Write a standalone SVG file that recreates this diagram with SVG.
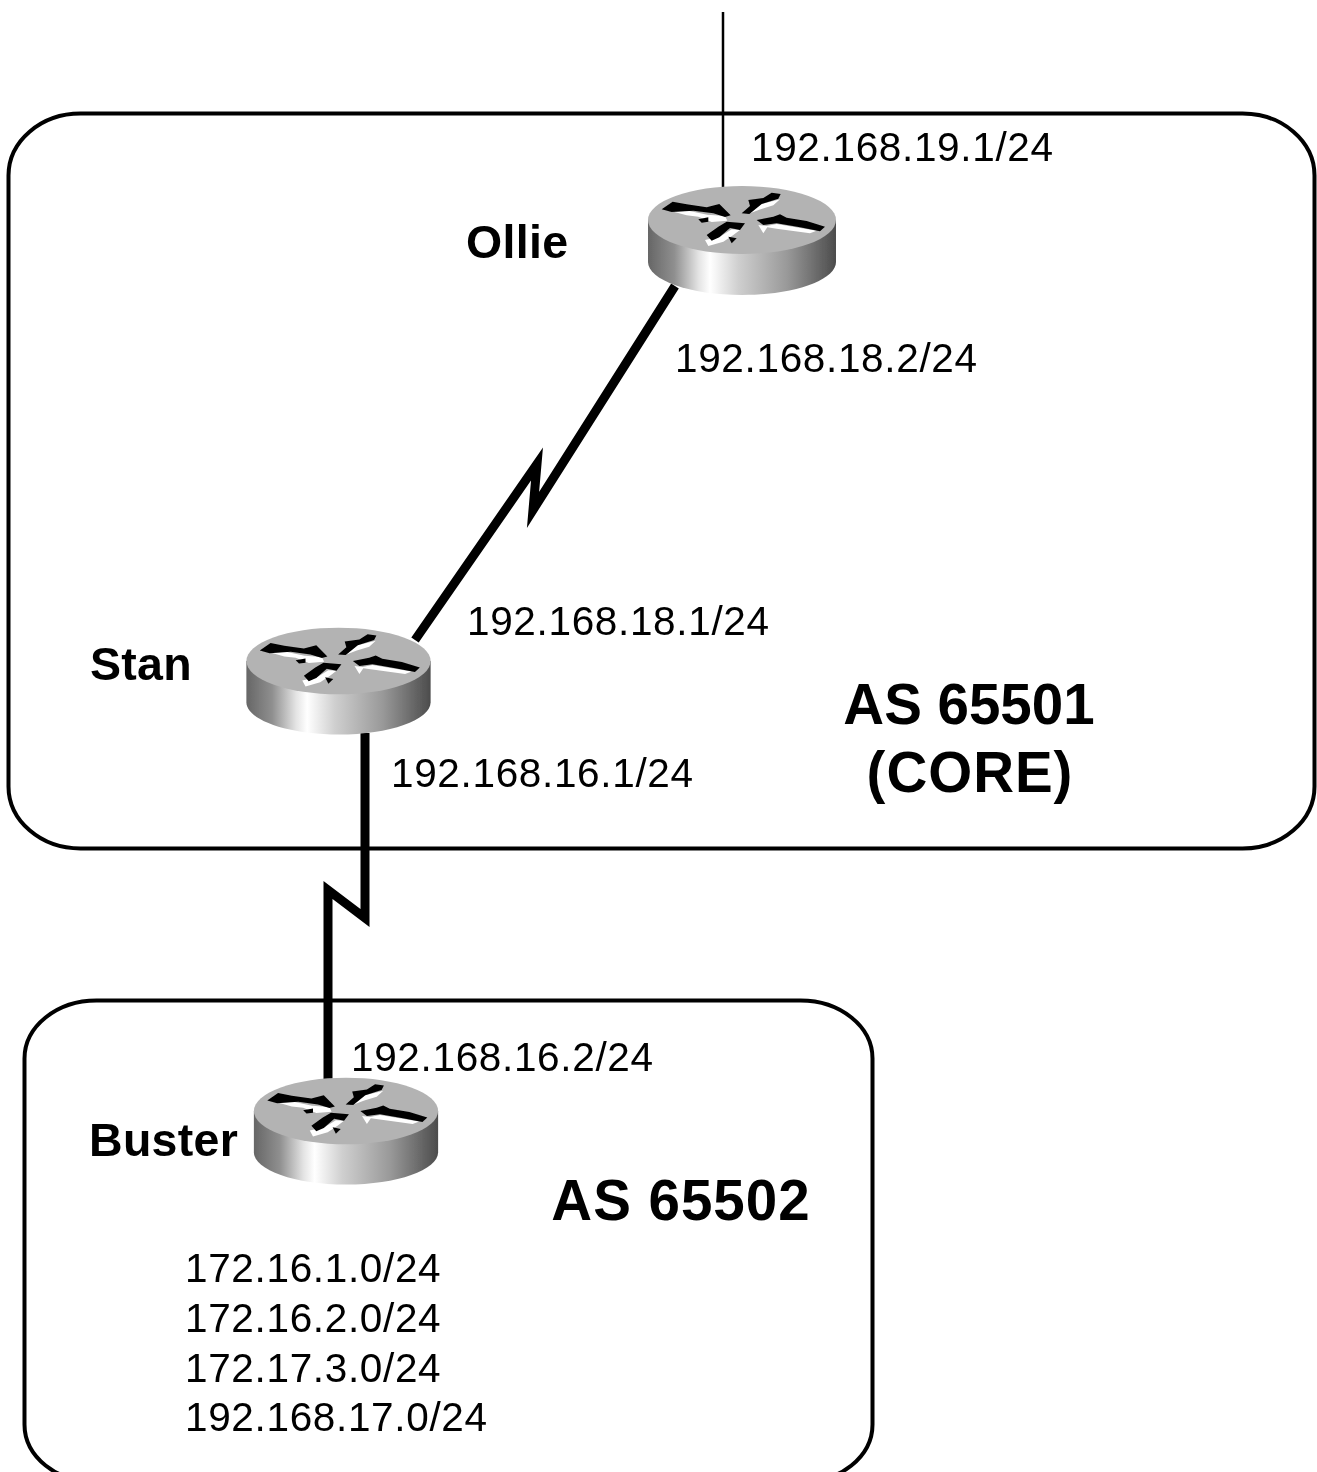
<svg xmlns="http://www.w3.org/2000/svg" width="1317" height="1472" viewBox="0 0 1317 1472">
<style>
.box{fill:none;stroke:#000;stroke-width:4}
.thin{fill:none;stroke:#000;stroke-width:2.500}
.wan{fill:none;stroke:#000;stroke-width:9;stroke-linejoin:miter;stroke-miterlimit:6}
text{font-family:"Liberation Sans",Arial,sans-serif;fill:#000}
.ip{font-size:40.500px;letter-spacing:.66px}
.name{font-size:46.500px;font-weight:bold;letter-spacing:.3px}
.as{font-size:56.500px;font-weight:bold;text-anchor:middle}
.wide{letter-spacing:1px}
.k{fill:#000}.w{fill:#fff}
</style>
<defs>
<linearGradient id="side" x1="0" x2="1" y1="0" y2="0">
<stop offset="0" stop-color="#666"/><stop offset=".14" stop-color="#8f8f8f"/><stop offset=".27" stop-color="#e4e4e4"/><stop offset=".33" stop-color="#fff"/><stop offset=".48" stop-color="#cfcfcf"/><stop offset=".74" stop-color="#999"/><stop offset="1" stop-color="#4c4c4c"/>
</linearGradient>
<filter id="soft" x="-5%" y="-5%" width="110%" height="110%"><feGaussianBlur stdDeviation="0.7"/></filter>
<g id="router">
<path d="M-94,0V42C-94,60 -52,75 0,75S94,60 94,42V0Z" fill="url(#side)"/>
<ellipse cx="0" cy="0" rx="94" ry="34" fill="#b3b3b3"/>
<g transform="scale(.3333) translate(-336,-150)">
<polygon class="w" points="130,125 175,122 232,134 285,138 292,152 245,156 205,140 170,136"/>
<polygon class="k" points="95,118 128,95 170,103 230,112 268,102 302,136 285,141 250,130 190,122 125,126"/>
<polygon class="k" points="205,148 235,142 235,155 215,158"/>
<polygon class="w" points="360,130 395,102 450,88 430,106 392,118"/>
<polygon class="k" points="335,130 360,108 355,90 400,84 425,68 452,72 445,86 395,102 358,132"/>
<polygon class="w" points="385,165 410,168 440,162 560,182 540,190 440,176 412,172 400,190"/>
<polygon class="k" points="380,150 430,140 450,133 470,143 530,153 585,170 570,184 510,172 440,160 400,165"/>
<polygon class="w" points="225,210 270,200 305,178 330,180 310,195 280,215 235,228"/>
<polygon class="k" points="230,195 265,170 290,155 345,160 330,180 300,174 268,202 245,212"/>
<polygon class="k" points="295,200 320,205 305,220"/>
</g>
</g>
</defs>
<rect width="1317" height="1472" fill="#fff"/>
<g filter="url(#soft)">
<g id="as65501"><rect class="box" x="8.500" y="113.500" width="1306" height="735" rx="72" ry="62"/></g>
<g id="as65502"><rect class="box" x="24.500" y="1000.500" width="848" height="482" rx="72" ry="58"/></g>
<g id="connectors">
<path class="thin" d="M723,12V190"/>
<path class="wan" d="M675,286L533,510L537,464L415,640"/>
<path class="wan" d="M365,733V918L328,890V1080"/>
</g>
<g id="ollie"><use href="#router" transform="translate(742,220)"/><text class="name" x="466" y="258">Ollie</text></g>
<g id="stan"><use href="#router" transform="translate(338.500,661) scale(.98)"/><text class="name" x="90" y="680">Stan</text></g>
<g id="buster"><use href="#router" transform="translate(346,1111) scale(.98)"/><text class="name" x="89" y="1156">Buster</text></g>
<g id="labels">
<text class="ip" x="751" y="161">192.168.19.1/24</text>
<text class="ip" x="675" y="372">192.168.18.2/24</text>
<text class="ip" x="467" y="635">192.168.18.1/24</text>
<text class="ip" x="391" y="787">192.168.16.1/24</text>
<text class="ip" x="351" y="1071">192.168.16.2/24</text>
<text class="ip" x="185" y="1282">172.16.1.0/24</text>
<text class="ip" x="185" y="1332">172.16.2.0/24</text>
<text class="ip" x="185" y="1382">172.17.3.0/24</text>
<text class="ip" x="185" y="1431">192.168.17.0/24</text>
<text class="as" x="969" y="724">AS 65501</text>
<text class="as wide" x="970" y="792">(CORE)</text>
<text class="as wide" x="681" y="1220">AS 65502</text>
</g>
</g>
</svg>
